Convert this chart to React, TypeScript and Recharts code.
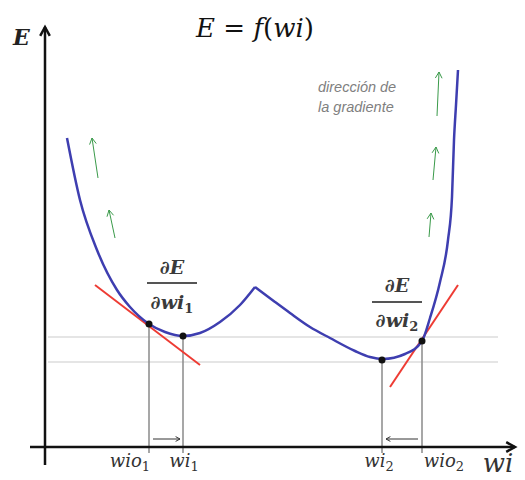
import React from "react";
import { ComposedChart, Line, Scatter, XAxis, YAxis, ReferenceLine } from "recharts";

// Coordenadas: x = distancia desde el eje E, y = altura sobre el eje wi
const curvaIzq = [
  { x: 22, y: 309 }, { x: 35, y: 247 }, { x: 52, y: 197 }, { x: 72, y: 157 },
  { x: 85, y: 140 }, { x: 104, y: 123 }, { x: 120, y: 115 }, { x: 138, y: 111 },
  { x: 155, y: 114 }, { x: 175, y: 125 }, { x: 195, y: 142 }, { x: 210, y: 160 },
];
const curvaDer = [
  { x: 210, y: 160 }, { x: 230, y: 145 }, { x: 245, y: 134 }, { x: 265, y: 120 },
  { x: 285, y: 109 }, { x: 310, y: 96 }, { x: 325, y: 90 }, { x: 338, y: 88 },
  { x: 360, y: 93 }, { x: 377, y: 106 },
  { x: 385, y: 129 }, { x: 395, y: 165 }, { x: 403, y: 207 }, { x: 407, y: 250 },
  { x: 409, y: 307 }, { x: 411, y: 342 }, { x: 413, y: 377 },
];
const puntos = [
  { x: 104, y: 123 }, { x: 138, y: 111 }, { x: 337, y: 87 }, { x: 377, y: 106 },
];
const tangentes = [
  [{ x: 50, y: 162 }, { x: 155, y: 82 }],
  [{ x: 345, y: 60 }, { x: 413, y: 162 }],
];
const nivelesE = [110, 85];
const flechasGradiente = [
  [{ x: 53, y: 269 }, { x: 47, y: 309 }],
  [{ x: 70, y: 209 }, { x: 64, y: 237 }],
  [{ x: 392, y: 331 }, { x: 394, y: 375 }],
  [{ x: 388, y: 267 }, { x: 391, y: 300 }],
  [{ x: 384, y: 210 }, { x: 386, y: 234 }],
];
const pasos = [
  [{ x: 108, y: 8 }, { x: 135, y: 8 }],
  [{ x: 373, y: 8 }, { x: 341, y: 8 }],
];

const flecha = (size: number) => (p: any) => {
  const { x1, y1, x2, y2, stroke, strokeWidth } = p;
  const a = Math.atan2(y2 - y1, x2 - x1);
  const w1 = { x: x2 - size * Math.cos(a - 0.5), y: y2 - size * Math.sin(a - 0.5) };
  const w2 = { x: x2 - size * Math.cos(a + 0.5), y: y2 - size * Math.sin(a + 0.5) };
  return (
    <g stroke={stroke} strokeWidth={strokeWidth} fill="none">
      <line x1={x1} y1={y1} x2={x2} y2={y2} />
      <polyline points={`${w1.x},${w1.y} ${x2},${y2} ${w2.x},${w2.y}`} />
    </g>
  );
};

const serif = "'DejaVu Serif', serif";

export default function App() {
  return (
    <div style={{ position: "absolute", left: 0, top: 0, background: "#fff" }}>
      <ComposedChart width={525} height={480} margin={{ top: 0, right: 0, bottom: 0, left: 0 }}>
        <XAxis type="number" dataKey="x" domain={[-45, 480]} hide allowDataOverflow />
        <YAxis type="number" dataKey="y" domain={[-33, 447]} hide allowDataOverflow />
        {nivelesE.map((v) => (
          <ReferenceLine key={v} segment={[{ x: 3, y: v }, { x: 453, y: v }]} stroke="#dcdcdc" strokeWidth={1.5} />
        ))}
        {puntos.map((d) => (
          <ReferenceLine key={d.x} segment={[{ x: d.x, y: d.y }, { x: d.x, y: -6 }]} stroke="#8a8a8a" strokeWidth={1.5} />
        ))}
        <ReferenceLine segment={[{ x: 0, y: -18 }, { x: 0, y: 420 }]} stroke="#111" strokeWidth={2.5} shape={flecha(10)} />
        <ReferenceLine segment={[{ x: -15, y: 0 }, { x: 470, y: 0 }]} stroke="#111" strokeWidth={2.5} shape={flecha(10)} />
        {pasos.map((s, i) => (
          <ReferenceLine key={i} segment={s} stroke="#333" strokeWidth={1} shape={flecha(5)} />
        ))}
        {flechasGradiente.map((s, i) => (
          <ReferenceLine key={i} segment={s} stroke="#3a9a4a" strokeWidth={1} shape={flecha(7)} />
        ))}
        {tangentes.map((s, i) => (
          <ReferenceLine key={i} segment={s} stroke="#ee3b33" strokeWidth={2} />
        ))}
        <Line data={curvaIzq} dataKey="y" type="monotone" stroke="#3e3eb0" strokeWidth={2.5}
          dot={false} activeDot={false} isAnimationActive={false} />
        <Line data={curvaDer} dataKey="y" type="monotone" stroke="#3e3eb0" strokeWidth={2.5}
          dot={false} activeDot={false} isAnimationActive={false} />
        <Scatter data={puntos} dataKey="y" isAnimationActive={false}
          shape={(p: any) => <circle cx={p.cx} cy={p.cy} r={3.5} fill="#111" />} />

        <text x={255} y={37} textAnchor="middle" fontFamily={serif} fontSize={26} fill="#111">
          <tspan fontStyle="italic">E</tspan> = <tspan fontStyle="italic">f</tspan>(<tspan fontStyle="italic">wi</tspan>)
        </text>
        <text x={13} y={45} fontFamily={serif} fontSize={22} fontStyle="italic" fontWeight="bold" fill="#222">E</text>
        <text x={498} y={472} fontFamily={serif} fontSize={26} fontStyle="italic" textAnchor="middle" fill="#333">wi</text>

        <text x={318} y={92} fontFamily="'Liberation Sans', sans-serif" fontSize={14.5} fontStyle="italic" fill="#808080">dirección de</text>
        <text x={318} y={112} fontFamily="'Liberation Sans', sans-serif" fontSize={14.5} fontStyle="italic" fill="#808080">la gradiente</text>

        {[{ cx: 172, top: 274, bar: 283, bot: 309, x1: 147, x2: 197, sub: "1" },
          { cx: 397, top: 292, bar: 302, bot: 327, x1: 372, x2: 422, sub: "2" }].map((f) => (
          <g key={f.sub} fill="#3a3a3a" fontFamily={serif} fontWeight="bold" fontSize={19}>
            <text x={f.cx} y={f.top} textAnchor="middle">∂<tspan fontStyle="italic">E</tspan></text>
            <line x1={f.x1} x2={f.x2} y1={f.bar} y2={f.bar} stroke="#555" strokeWidth={2} />
            <text x={f.cx} y={f.bot} textAnchor="middle">∂<tspan fontStyle="italic">wi</tspan><tspan fontSize={13} dy={4}>{f.sub}</tspan></text>
          </g>
        ))}

        {[{ x: 130, t: "wio", s: "1" }, { x: 184, t: "wi", s: "1" }, { x: 379, t: "wi", s: "2" }, { x: 444, t: "wio", s: "2" }].map((l) => (
          <text key={l.x} x={l.x} y={467} textAnchor="middle" fontFamily={serif} fontSize={18} fontStyle="italic" fill="#333">
            {l.t}<tspan fontStyle="normal" fontSize={13} dy={4}>{l.s}</tspan>
          </text>
        ))}
      </ComposedChart>
    </div>
  );
}
